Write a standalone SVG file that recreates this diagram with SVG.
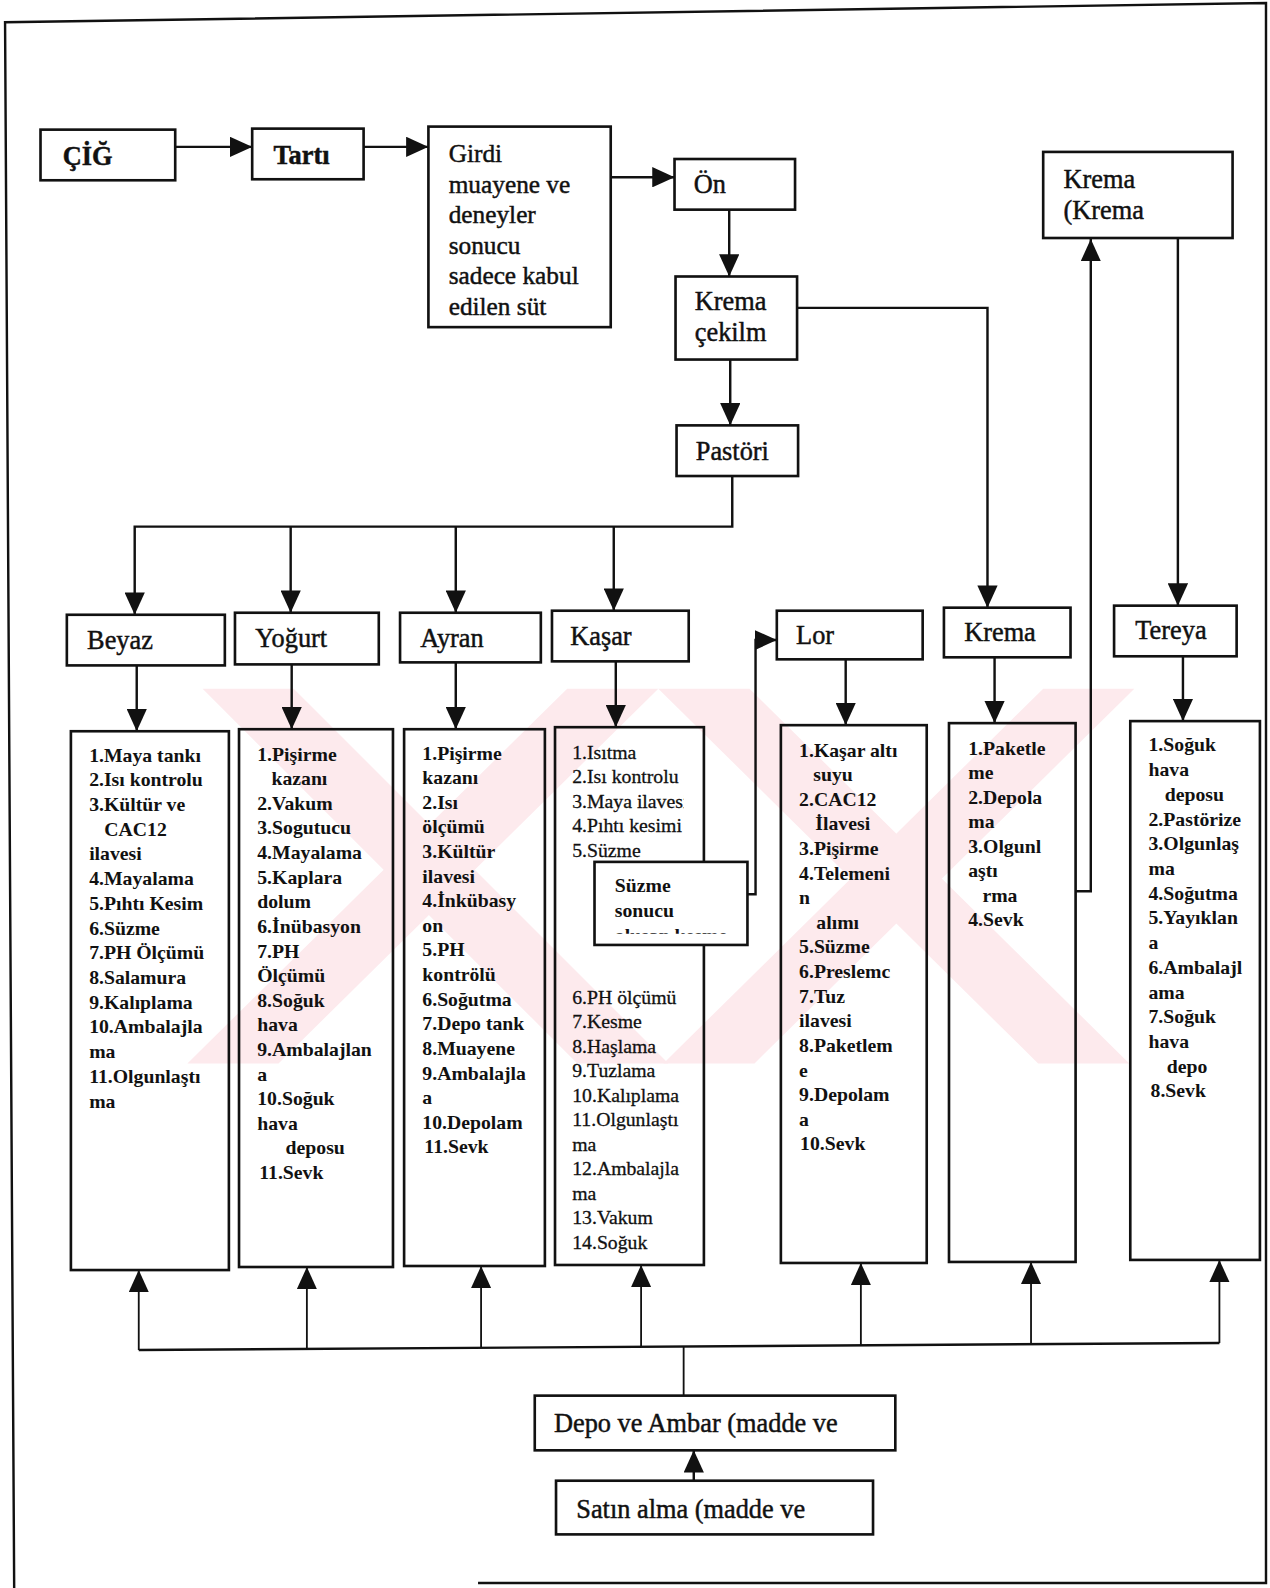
<svg xmlns="http://www.w3.org/2000/svg" width="1270" height="1588" viewBox="0 0 1270 1588">
  <defs>
    <style>
      .box { fill: none; stroke: #111; stroke-width: 2.6; }
      .ln { fill: none; stroke: #111; stroke-width: 2.4; }
      .thin { fill: none; stroke: #111; stroke-width: 1.8; }
      .t { font-family: "Liberation Serif", "Times New Roman", serif; fill: #111; }
      .h { font-size: 26px; stroke: #111; stroke-width: 0.45; }
      .g { font-size: 25px; stroke: #111; stroke-width: 0.45; }
      .b { font-weight: bold; }
      .li { font-size: 19.5px; font-weight: bold; }
      .lr { font-size: 19.5px; stroke: #111; stroke-width: 0.3; }
      .wm { fill: #fdeaed; }
    </style>
    <marker id="ah" markerUnits="userSpaceOnUse" markerWidth="22" markerHeight="20" refX="22" refY="10" orient="auto" viewBox="0 0 22 20">
      <path d="M0,0 L22,10 L0,20 z" fill="#111"/>
    </marker>
    <clipPath id="clipKasar"><rect x="548" y="718" width="127" height="530"/></clipPath>
    <clipPath id="clipSuzme"><rect x="587" y="851" width="151" height="71"/></clipPath>
  </defs>
  <rect width="1270" height="1588" fill="#fff"/>

  <g transform="scale(1.0128)">
    <!-- faint background watermark bands -->
    <g id="watermark">
      <polygon class="wm" points="200,680 290,680 660,1050 570,1050"/>
      <polygon class="wm" points="560,680 650,680 275,1050 185,1050"/>
      <polygon class="wm" points="650,680 740,680 1115,1050 1025,1050"/>
      <polygon class="wm" points="1030,680 1120,680 745,1050 655,1050"/>
    </g>

    <!-- page frame -->
    <path class="ln" d="M14,1568 L5,22 L1250,3 V1563 H472"/>

    <!-- connectors -->
    <g id="connectors">
      <path class="ln" d="M173,145 H249" marker-end="url(#ah)"/>
      <path class="ln" d="M359,145 H423" marker-end="url(#ah)"/>
      <path class="ln" d="M603,175 H666" marker-end="url(#ah)"/>
      <path class="ln" d="M720,207 V273" marker-end="url(#ah)"/>
      <path class="ln" d="M787,304 H975 V600" marker-end="url(#ah)"/>
      <path class="ln" d="M721,355 V420" marker-end="url(#ah)"/>
      <path class="ln" d="M723,470 V520 H133 V607" marker-end="url(#ah)"/>
      <path class="ln" d="M287,520 V605" marker-end="url(#ah)"/>
      <path class="ln" d="M450,520 V605" marker-end="url(#ah)"/>
      <path class="ln" d="M606,520 V603" marker-end="url(#ah)"/>
      <path class="ln" d="M1163,235 V598" marker-end="url(#ah)"/>

      <path class="ln" d="M135,657 V722" marker-end="url(#ah)"/>
      <path class="ln" d="M288,656 V720" marker-end="url(#ah)"/>
      <path class="ln" d="M450,654 V720" marker-end="url(#ah)"/>
      <path class="ln" d="M608,653 V718" marker-end="url(#ah)"/>
      <path class="ln" d="M835,651 V716" marker-end="url(#ah)"/>
      <path class="ln" d="M982,649 V714" marker-end="url(#ah)"/>
      <path class="ln" d="M1168,648 V712" marker-end="url(#ah)"/>

      <path class="ln" d="M738,883 H746 V632 H767" marker-end="url(#ah)"/>
      <path class="ln" d="M1062,880 H1077 V236" marker-end="url(#ah)"/>

      <path class="ln" d="M137,1333 L1204,1326"/>
      <path class="thin" d="M137,1333 V1254" marker-end="url(#ah)"/>
      <path class="thin" d="M303,1332 V1251" marker-end="url(#ah)"/>
      <path class="thin" d="M475,1331 V1250" marker-end="url(#ah)"/>
      <path class="thin" d="M633,1330 V1249" marker-end="url(#ah)"/>
      <path class="thin" d="M850,1329 V1247" marker-end="url(#ah)"/>
      <path class="thin" d="M1018,1328 V1246" marker-end="url(#ah)"/>
      <path class="thin" d="M1204,1326 V1244" marker-end="url(#ah)"/>
      <path class="thin" d="M675,1330 V1378"/>
      <path class="ln" d="M685,1462 V1432" marker-end="url(#ah)"/>
    </g>

    <!-- top chain -->
    <g id="cig">
      <rect class="box" x="40" y="128" width="133" height="50"/>
      <text class="t h b" x="62" y="163">ÇİĞ</text>
    </g>
    <g id="tarti">
      <rect class="box" x="249" y="127" width="110" height="50"/>
      <text class="t h b" x="270" y="162">Tartı</text>
    </g>
    <g id="girdi">
      <rect class="box" x="423" y="125" width="180" height="198"/>
      <text class="t g" x="443" y="160">Girdi<tspan x="443" dy="30.2">muayene ve</tspan><tspan x="443" dy="30.2">deneyler</tspan><tspan x="443" dy="30.2">sonucu</tspan><tspan x="443" dy="30.2">sadece kabul</tspan><tspan x="443" dy="30.2">edilen süt</tspan></text>
    </g>
    <g id="on">
      <rect class="box" x="666" y="157" width="119" height="50"/>
      <text class="t h" x="685" y="191">Ön</text>
    </g>
    <g id="krema-cekilm">
      <rect class="box" x="667" y="273" width="120" height="82"/>
      <text class="t h" x="686" y="306">Krema<tspan x="686" dy="31">çekilm</tspan></text>
    </g>
    <g id="pastori">
      <rect class="box" x="668" y="420" width="120" height="50"/>
      <text class="t h" x="687" y="454">Pastöri</text>
    </g>
    <g id="krema-krema">
      <rect class="box" x="1030" y="150" width="187" height="85"/>
      <text class="t h" x="1050" y="186">Krema<tspan x="1050" dy="30">(Krema</tspan></text>
    </g>

    <!-- product headers -->
    <g id="beyaz">
      <rect class="box" x="66" y="607" width="156" height="50"/>
      <text class="t h" x="86" y="641">Beyaz</text>
    </g>
    <g id="yogurt">
      <rect class="box" x="232" y="605" width="142" height="51"/>
      <text class="t h" x="252" y="639">Yoğurt</text>
    </g>
    <g id="ayran">
      <rect class="box" x="395" y="605" width="139" height="49"/>
      <text class="t h" x="415" y="639">Ayran</text>
    </g>
    <g id="kasar">
      <rect class="box" x="545" y="603" width="135" height="50"/>
      <text class="t h" x="563" y="637">Kaşar</text>
    </g>
    <g id="lor">
      <rect class="box" x="767" y="603" width="144" height="48"/>
      <text class="t h" x="786" y="636">Lor</text>
    </g>
    <g id="krema">
      <rect class="box" x="932" y="600" width="125" height="49"/>
      <text class="t h" x="952" y="633">Krema</text>
    </g>
    <g id="tereya">
      <rect class="box" x="1100" y="598" width="121" height="50"/>
      <text class="t h" x="1121" y="631">Tereya</text>
    </g>

    <!-- process step lists -->
    <g id="beyaz-steps">
      <rect class="box" x="70" y="722" width="156" height="532"/>
      <text class="t li" x="88" y="752">1.Maya tankı<tspan x="88" dy="24.4">2.Isı kontrolu</tspan><tspan x="88" dy="24.4">3.Kültür  ve</tspan><tspan x="103" dy="24.4">CAC12</tspan><tspan x="88" dy="24.4">ilavesi</tspan><tspan x="88" dy="24.4">4.Mayalama</tspan><tspan x="88" dy="24.4">5.Pıhtı Kesim</tspan><tspan x="88" dy="24.4">6.Süzme</tspan><tspan x="88" dy="24.4">7.PH Ölçümü</tspan><tspan x="88" dy="24.4">8.Salamura</tspan><tspan x="88" dy="24.4">9.Kalıplama</tspan><tspan x="88" dy="24.4">10.Ambalajla</tspan><tspan x="88" dy="24.4">ma</tspan><tspan x="88" dy="24.4">11.Olgunlaştı</tspan><tspan x="88" dy="24.4">ma</tspan></text>
    </g>
    <g id="yogurt-steps">
      <rect class="box" x="236" y="720" width="152" height="531"/>
      <text class="t li" x="254" y="751">1.Pişirme<tspan x="268" dy="24.3">kazanı</tspan><tspan x="254" dy="24.3">2.Vakum</tspan><tspan x="254" dy="24.3">3.Sogutucu</tspan><tspan x="254" dy="24.3">4.Mayalama</tspan><tspan x="254" dy="24.3">5.Kaplara</tspan><tspan x="254" dy="24.3">dolum</tspan><tspan x="254" dy="24.3">6.İnübasyon</tspan><tspan x="254" dy="24.3">7.PH</tspan><tspan x="254" dy="24.3">Ölçümü</tspan><tspan x="254" dy="24.3">8.Soğuk</tspan><tspan x="254" dy="24.3">hava</tspan><tspan x="254" dy="24.3">9.Ambalajlan</tspan><tspan x="254" dy="24.3">a</tspan><tspan x="254" dy="24.3">10.Soğuk</tspan><tspan x="254" dy="24.3">hava</tspan><tspan x="282" dy="24.3">deposu</tspan><tspan x="256" dy="24.3">11.Sevk</tspan></text>
    </g>
    <g id="ayran-steps">
      <rect class="box" x="399" y="720" width="139" height="530"/>
      <text class="t li" x="417" y="750">1.Pişirme<tspan x="417" dy="24.3">kazanı</tspan><tspan x="417" dy="24.3">2.Isı</tspan><tspan x="417" dy="24.3">ölçümü</tspan><tspan x="417" dy="24.3">3.Kültür</tspan><tspan x="417" dy="24.3">ilavesi</tspan><tspan x="417" dy="24.3">4.İnkübasy</tspan><tspan x="417" dy="24.3">on</tspan><tspan x="417" dy="24.3">5.PH</tspan><tspan x="417" dy="24.3">kontrölü</tspan><tspan x="417" dy="24.3">6.Soğutma</tspan><tspan x="417" dy="24.3">7.Depo tank</tspan><tspan x="417" dy="24.3">8.Muayene</tspan><tspan x="417" dy="24.3">9.Ambalajla</tspan><tspan x="417" dy="24.3">a</tspan><tspan x="417" dy="24.3">10.Depolam</tspan><tspan x="419" dy="24.3">11.Sevk</tspan></text>
    </g>
    <g id="kasar-steps">
      <rect class="box" x="548" y="718" width="147" height="531"/>
      <text class="t lr" x="565" y="749" clip-path="url(#clipKasar)">1.Isıtma<tspan x="565" dy="24.2">2.Isı kontrolu</tspan><tspan x="565" dy="24.2">3.Maya ilavesi</tspan><tspan x="565" dy="24.2">4.Pıhtı kesimi</tspan><tspan x="565" dy="24.2">5.Süzme</tspan><tspan x="565" dy="145.2">6.PH ölçümü</tspan><tspan x="565" dy="24.2">7.Kesme</tspan><tspan x="565" dy="24.2">8.Haşlama</tspan><tspan x="565" dy="24.2">9.Tuzlama</tspan><tspan x="565" dy="24.2">10.Kalıplama</tspan><tspan x="565" dy="24.2">11.Olgunlaştı</tspan><tspan x="565" dy="24.2">ma</tspan><tspan x="565" dy="24.2">12.Ambalajla</tspan><tspan x="565" dy="24.2">ma</tspan><tspan x="565" dy="24.2">13.Vakum</tspan><tspan x="565" dy="24.2">14.Soğuk</tspan></text>
    </g>
    <g id="suzme-sonucu">
      <rect x="587" y="851" width="151" height="82" fill="#fff" stroke="#111" stroke-width="2.6"/>
      <text class="t li" x="607" y="881" clip-path="url(#clipSuzme)">Süzme<tspan x="607" dy="24.5">sonucu</tspan><tspan x="607" dy="24.5">oluşan kesme</tspan></text>
    </g>
    <g id="lor-steps">
      <rect class="box" x="771" y="716" width="144" height="531"/>
      <text class="t li" x="789" y="747">1.Kaşar altı<tspan x="803" dy="24.3">suyu</tspan><tspan x="789" dy="24.3">2.CAC12</tspan><tspan x="805" dy="24.3">İlavesi</tspan><tspan x="789" dy="24.3">3.Pişirme</tspan><tspan x="789" dy="24.3">4.Telemeni</tspan><tspan x="789" dy="24.3">n</tspan><tspan x="806" dy="24.3">alımı</tspan><tspan x="789" dy="24.3">5.Süzme</tspan><tspan x="789" dy="24.3">6.Preslemc</tspan><tspan x="789" dy="24.3">7.Tuz</tspan><tspan x="789" dy="24.3">ilavesi</tspan><tspan x="789" dy="24.3">8.Paketlem</tspan><tspan x="789" dy="24.3">e</tspan><tspan x="789" dy="24.3">9.Depolam</tspan><tspan x="789" dy="24.3">a</tspan><tspan x="790" dy="24.3">10.Sevk</tspan></text>
    </g>
    <g id="krema-steps">
      <rect class="box" x="937" y="714" width="125" height="532"/>
      <text class="t li" x="956" y="745">1.Paketle<tspan x="956" dy="24.2">me</tspan><tspan x="956" dy="24.2">2.Depola</tspan><tspan x="956" dy="24.2">ma</tspan><tspan x="956" dy="24.2">3.Olgunl</tspan><tspan x="956" dy="24.2">aştı</tspan><tspan x="970" dy="24.2">rma</tspan><tspan x="956" dy="24.2">4.Sevk</tspan></text>
    </g>
    <g id="tereya-steps">
      <rect class="box" x="1116" y="712" width="128" height="532"/>
      <text class="t li" x="1134" y="742">1.Soğuk<tspan x="1134" dy="24.4">hava</tspan><tspan x="1150" dy="24.4">deposu</tspan><tspan x="1134" dy="24.4">2.Pastörize</tspan><tspan x="1134" dy="24.4">3.Olgunlaş</tspan><tspan x="1134" dy="24.4">ma</tspan><tspan x="1134" dy="24.4">4.Soğutma</tspan><tspan x="1134" dy="24.4">5.Yayıklan</tspan><tspan x="1134" dy="24.4">a</tspan><tspan x="1134" dy="24.4">6.Ambalajl</tspan><tspan x="1134" dy="24.4">ama</tspan><tspan x="1134" dy="24.4">7.Soğuk</tspan><tspan x="1134" dy="24.4">hava</tspan><tspan x="1152" dy="24.4">depo</tspan><tspan x="1136" dy="24.4">8.Sevk</tspan></text>
    </g>

    <!-- supply boxes -->
    <g id="depo-ambar">
      <rect class="box" x="528" y="1378" width="356" height="54"/>
      <text class="t h" x="547" y="1414">Depo ve Ambar (madde ve</text>
    </g>
    <g id="satin-alma">
      <rect class="box" x="549" y="1462" width="313" height="53"/>
      <text class="t h" x="569" y="1499">Satın alma (madde ve</text>
    </g>
  </g>
</svg>
